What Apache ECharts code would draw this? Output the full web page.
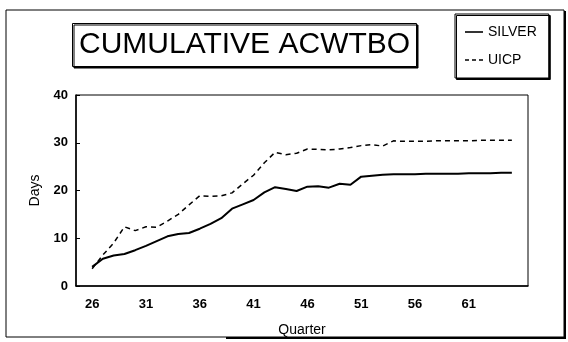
<!DOCTYPE html>
<html>
<head>
<meta charset="utf-8">
<script src="https://cdn.jsdelivr.net/npm/echarts@6/dist/echarts.min.js"></script>
<style>
html,body{margin:0;padding:0;background:#fff;}
#chart{width:568px;height:342px;}
</style>
</head>
<body>
<div id="chart"></div>
<script>
// Quarter categories shown on the axis (axis spans 25..66, data 26..65)
const quarters = ['25','26','27','28','29','30','31','32','33','34','35','36','37','38','39','40','41','42','43','44','45','46','47','48','49','50','51','52','53','54','55','56','57','58','59','60','61','62','63','64','65','66'];
const labelQuarters = ['26','31','36','41','46','51','56','61'];

// SILVER, quarters 26..65
const silver = [4.0,5.7,6.4,6.7,7.5,8.4,9.4,10.4,10.9,11.1,12.0,13.0,14.2,16.2,17.1,18.0,19.6,20.7,20.3,19.9,20.8,20.9,20.6,21.4,21.2,22.9,23.1,23.3,23.4,23.4,23.4,23.5,23.5,23.5,23.5,23.6,23.6,23.6,23.7,23.7];
// UICP, quarters 26..65
const uicp = [3.6,6.5,9.0,12.4,11.6,12.4,12.3,13.6,15.0,17.0,18.9,18.8,18.9,19.5,21.4,23.2,25.8,28.0,27.5,27.8,28.7,28.6,28.5,28.7,29.0,29.4,29.6,29.3,30.4,30.3,30.3,30.3,30.4,30.4,30.4,30.4,30.5,30.5,30.5,30.5];

const yTicks = [0,10,20,30,40];

const FONT = "'Liberation Sans', Arial, sans-serif";
const chart = echarts.init(document.getElementById('chart'), null, {renderer:'canvas'});

chart.setOption({
  backgroundColor: '#fff',
  animation: false,
  title: {
    text: 'CUMULATIVE ACWTBO',
    left: 72, top: 23,
    padding: [7, 7, 7, 7],
    borderColor: '#000', borderWidth: 1,
    backgroundColor: '#fff',
    shadowColor: '#000', shadowOffsetX: 1.5, shadowOffsetY: 1.5, shadowBlur: 0,
    textStyle: { fontFamily: FONT, fontSize: 30, fontWeight: 'normal', color: '#000' }
  },
  legend: {
    data: [
      { name: 'SILVER', icon: 'path://M0,0H18V1.6H0Z' },
      { name: 'UICP', icon: 'path://M0,0H4V1.3H0Z M7,0H11V1.3H7Z M14,0H18V1.3H14Z' }
    ],
    orient: 'vertical',
    left: 455, top: 14,
    padding: [11, 12, 11, 10],
    itemGap: 14,
    itemWidth: 18, itemHeight: 14,
    symbolKeepAspect: true,
    borderColor: '#000', borderWidth: 1,
    backgroundColor: '#fff',
    shadowColor: '#000', shadowOffsetX: 1.5, shadowOffsetY: 1.5, shadowBlur: 0,
    textStyle: { fontFamily: FONT, fontSize: 14, color: '#000' }
  },
  graphic: [
    { type: 'rect', silent: true, z: -10,
      shape: { x: 6, y: 10, width: 558, height: 327 },
      style: { fill: null, stroke: '#000', lineWidth: 1 } },
    { type: 'line', silent: true, z: -10,
      shape: { x1: 565, y1: 11, x2: 565, y2: 339 },
      style: { stroke: '#000', lineWidth: 2 } },
    { type: 'line', silent: true, z: -10,
      shape: { x1: 226, y1: 338, x2: 566, y2: 338 },
      style: { stroke: '#000', lineWidth: 2 } }
  ],
  grid: {
    left: 76, right: 40, top: 95, bottom: 47,
    show: true, borderColor: '#000', borderWidth: 1, backgroundColor: 'transparent'
  },
  xAxis: {
    type: 'category',
    data: quarters,
    boundaryGap: true,
    name: 'Quarter',
    nameLocation: 'middle',
    nameGap: 37,
    nameTextStyle: { fontFamily: FONT, fontSize: 14, color: '#000' },
    axisLine: { lineStyle: { color: '#000', width: 1.5 } },
    axisTick: { inside: true, alignWithLabel: true, interval: 0, length: 3, lineStyle: { color: '#000' } },
    axisLabel: {
      interval: function (i, v) { return labelQuarters.indexOf(v) >= 0; },
      margin: 12,
      fontFamily: FONT, fontSize: 13, fontWeight: 'bold', color: '#000'
    },
    splitLine: { show: false }
  },
  yAxis: {
    type: 'value',
    min: yTicks[0], max: yTicks[yTicks.length-1], interval: 10,
    name: 'Days',
    nameLocation: 'middle',
    nameGap: 34,
    nameTextStyle: { fontFamily: FONT, fontSize: 14, color: '#000' },
    axisLine: { show: true, lineStyle: { color: '#000', width: 1.5 } },
    axisTick: { show: true, inside: true, length: 4, lineStyle: { color: '#000' } },
    axisLabel: { margin: 8, fontFamily: FONT, fontSize: 13, fontWeight: 'bold', color: '#000' },
    splitLine: { show: false }
  },
  series: [
    { name: 'SILVER', type: 'line', symbol: 'none',
      data: [null].concat(silver, [null]),
      lineStyle: { color: '#000', width: 2, type: 'solid' },
      itemStyle: { color: '#000' } },
    { name: 'UICP', type: 'line', symbol: 'none',
      data: [null].concat(uicp, [null]),
      lineStyle: { color: '#000', width: 1.5, type: [5, 4] },
      itemStyle: { color: '#000' } }
  ]
});
</script>
</body>
</html>
